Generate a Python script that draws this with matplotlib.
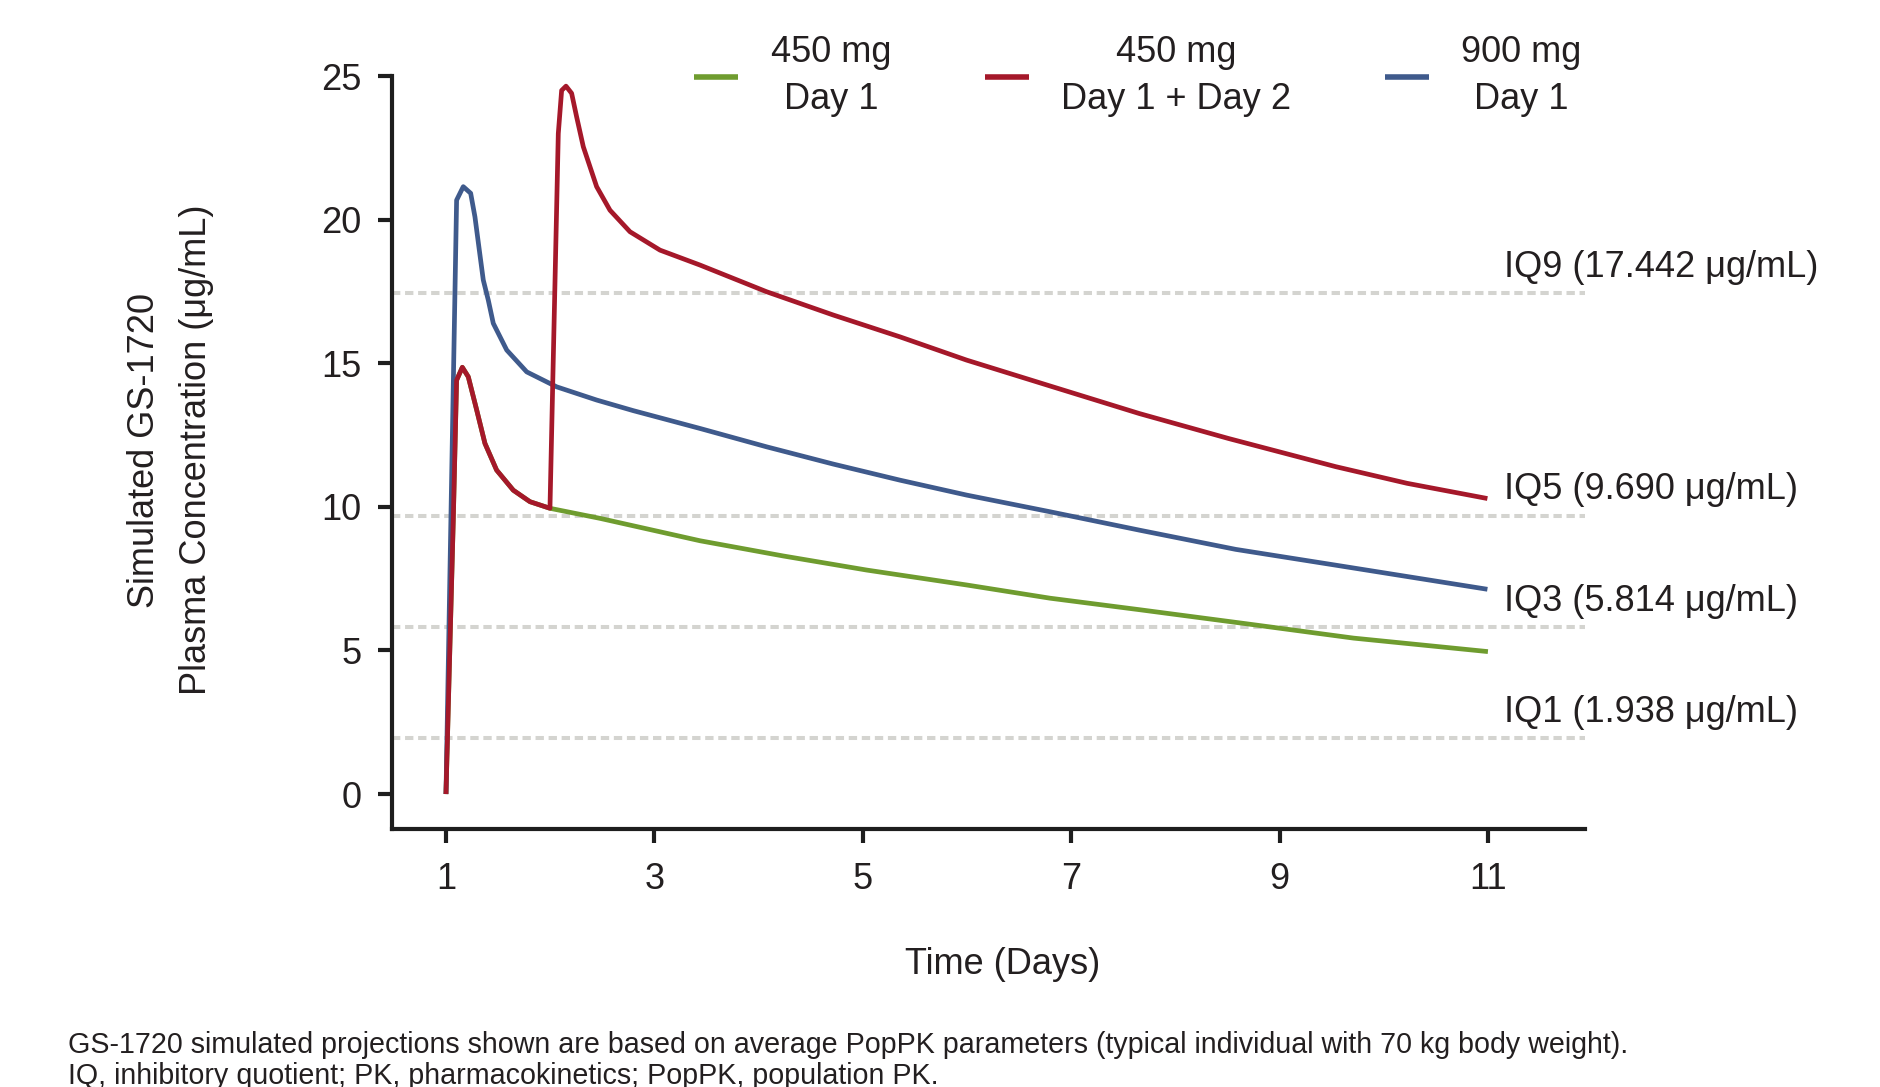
import matplotlib
matplotlib.use("Agg")
import matplotlib.pyplot as plt

plt.rcParams['font.family'] = ['Liberation Sans', 'DejaVu Sans']

# ---------------- data ----------------
day_450 = [1.0, 1.07, 1.102, 1.157, 1.214, 1.295, 1.374, 1.486, 1.646, 1.806, 1.998,
           2.478, 3.438, 4.237, 5.037, 5.997, 6.797, 7.654, 8.68, 9.71, 11.0]
conc_450 = [0.0, 9.54, 14.41, 14.86, 14.53, 13.37, 12.21, 11.28, 10.58, 10.18, 9.95,
            9.6, 8.82, 8.29, 7.8, 7.28, 6.82, 6.42, 5.93, 5.43, 4.96]

day_450x2 = [1.0, 1.07, 1.102, 1.157, 1.214, 1.295, 1.374, 1.486, 1.646, 1.806, 1.998,
             2.078, 2.11, 2.152, 2.206, 2.254, 2.318, 2.446, 2.574, 2.766, 3.054,
             3.438, 4.078, 4.717, 5.357, 5.997, 6.797, 7.654, 8.511, 9.539, 10.224, 10.995]
conc_450x2 = [0.0, 9.54, 14.41, 14.86, 14.53, 13.37, 12.21, 11.28, 10.58, 10.18, 9.95,
              23.0, 24.5, 24.65, 24.4, 23.58, 22.54, 21.15, 20.33, 19.58, 18.94,
              18.42, 17.49, 16.68, 15.92, 15.11, 14.21, 13.25, 12.38, 11.40, 10.82, 10.29]

day_900 = [1.0, 1.102, 1.166, 1.237, 1.278, 1.32, 1.358, 1.406, 1.454, 1.583, 1.775,
           2.062, 2.446, 2.798, 3.438, 4.078, 4.717, 5.357, 5.997, 6.797, 7.654,
           8.579, 9.539, 10.995]
conc_900 = [0.0, 20.68, 21.15, 20.92, 20.1, 18.94, 17.9, 17.2, 16.39, 15.46, 14.7,
            14.18, 13.72, 13.35, 12.73, 12.09, 11.49, 10.93, 10.41, 9.83, 9.19,
            8.52, 7.97, 7.13]

series_labels = ["450 mg\nDay 1", "450 mg\nDay 1 + Day 2", "900 mg\nDay 1"]
series_colors = ["#6f9c2f", "#a5182a", "#3f5a8c"]

iq_names = ["IQ9", "IQ5", "IQ3", "IQ1"]
iq_values = [17.442, 9.690, 5.814, 1.938]

x_ticks = [1, 3, 5, 7, 9, 11]
y_ticks = [0, 5, 10, 15, 20, 25]

# ---------------- figure ----------------
TXT = "#231f20"
FS = 26
fig = plt.figure(figsize=(18.81, 10.87), dpi=100)
ax = fig.add_axes([0.2084, 0.2373, 0.8426 - 0.2084, 0.930 - 0.2373])

for v in iq_values:
    ax.axhline(v, color="#d4d4d0", lw=2.9, dashes=(2.07, 1.17), zorder=1,
               dash_capstyle="butt")

lw = 3.4
l1, = ax.plot(day_450, conc_450, color=series_colors[0], lw=lw, zorder=3,
              solid_joinstyle="round", solid_capstyle="butt")
l3, = ax.plot(day_900, conc_900, color=series_colors[2], lw=lw, zorder=4,
              solid_joinstyle="round", solid_capstyle="butt")
l2, = ax.plot(day_450x2, conc_450x2, color=series_colors[1], lw=lw, zorder=5,
              solid_joinstyle="round", solid_capstyle="butt")

for name, v in zip(iq_names, iq_values):
    ax.text(11.153, v + 0.9, f"{name} ({v:.3f} μg/mL)", fontsize=FS, color=TXT,
            ha="left", va="center", clip_on=False)

ax.set_xlim(0.482, 11.931)
ax.set_ylim(-1.219, 25)
ax.set_xticks(x_ticks)
ax.set_yticks(y_ticks)
ax.set_xticklabels([str(t) for t in x_ticks])
ax.set_yticklabels([str(t) for t in y_ticks])

for s in ["top", "right"]:
    ax.spines[s].set_visible(False)
for s in ["left", "bottom"]:
    ax.spines[s].set_linewidth(3.0)
    ax.spines[s].set_color("#1e1e1e")
ax.tick_params(axis="both", which="major", length=10, width=3.0, color="#1e1e1e",
               labelsize=FS, labelcolor=TXT)
ax.tick_params(axis="x", pad=14)
ax.tick_params(axis="y", pad=12)

fig.text(1003 / 1881, 1 - 964 / 1087, "Time (Days)", fontsize=FS, color=TXT,
         ha="center", va="center")
fig.text(145 / 1881, 1 - 450 / 1087, "Simulated GS-1720", fontsize=FS, color=TXT,
         ha="center", va="center", rotation=90)
fig.text(196 / 1881, 1 - 450 / 1087, "Plasma Concentration (μg/mL)", fontsize=FS,
         color=TXT, ha="center", va="center", rotation=90)

leg = fig.legend([l1, l2, l3], series_labels, loc="center",
                 bbox_to_anchor=(1138 / 1881, 1 - 76 / 1087), ncol=3, frameon=False,
                 fontsize=FS, handlelength=1.22, handletextpad=0.89,
                 columnspacing=2.6, labelcolor=TXT)
for t in leg.get_texts():
    t.set_multialignment("center")
    t.set_linespacing(1.45)
for h in leg.get_lines():
    h.set_linewidth(4.0)

fig.text(68 / 1881, 1 - 1045 / 1087,
         "GS-1720 simulated projections shown are based on average PopPK parameters "
         "(typical individual with 70 kg body weight).",
         fontsize=20.6, color=TXT, ha="left", va="center")
fig.text(68 / 1881, 1 - 1076 / 1087,
         "IQ, inhibitory quotient; PK, pharmacokinetics; PopPK, population PK.",
         fontsize=20.6, color=TXT, ha="left", va="center")

fig.savefig("out.png", dpi=100)
